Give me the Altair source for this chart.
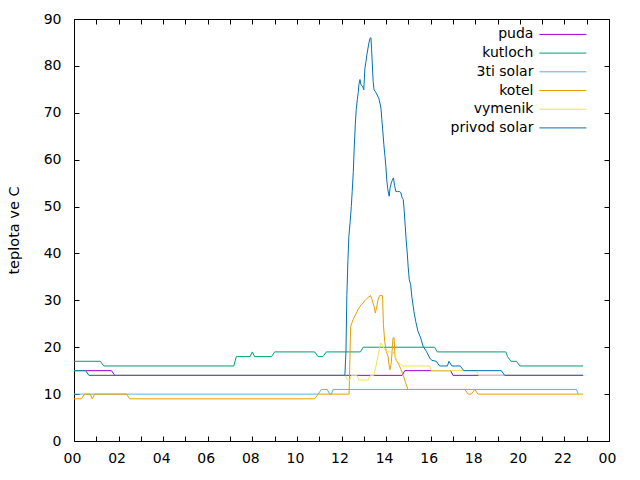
import altair as alt
import pandas as pd

series_names = ["puda", "kutloch", "3ti solar", "kotel", "vymenik", "privod solar"]
series_colors = ["#9400d3", "#009e73", "#56b4e9", "#e69f00", "#f0e442", "#0072b2"]

puda_hours = [0, 1.68, 1.83, 14.72, 14.84, 16.9, 17.0, 22.84]
puda_temp = [15, 15, 14, 14, 15, 15, 14, 14]

kutloch_hours = [0, 1.18, 1.33, 7.17, 7.28, 7.9, 8.0, 8.1, 8.86, 9.0, 10.8, 10.95,
                 11.17, 11.32, 12.85, 12.97, 16.18, 16.3, 19.37, 19.45, 19.6, 19.85, 20.0, 22.84]
kutloch_temp = [17, 17, 16, 16, 18, 18, 19, 18, 18, 19, 19, 18,
                18, 19, 19, 20, 20, 19, 19, 18, 17, 17, 16, 16]

solar3_hours = [0, 10.95, 11.1, 11.36, 11.47, 11.55, 11.62, 22.54, 22.62]
solar3_temp = [10, 10, 11, 11, 10, 10, 11, 11, 10]

kotel_hours = [0, 0.33, 0.48, 0.73, 0.82, 0.93, 2.35, 2.5, 10.8, 10.95,
               12.34, 12.37, 12.41, 12.52, 12.59, 12.67, 12.74, 12.82, 12.89, 12.97,
               13.04, 13.12, 13.19, 13.31, 13.37, 13.46, 13.52, 13.58, 13.64, 13.71,
               13.84, 13.88, 13.94, 14.01, 14.09, 14.13, 14.18, 14.24, 14.31, 14.36,
               14.4, 14.45, 14.55, 14.65, 14.77, 14.87, 14.98, 17.53, 17.68, 17.83,
               17.98, 18.12, 22.84]
kotel_temp = [9, 9, 10, 10, 9, 10, 10, 9, 9, 10,
              10, 16, 24.4, 25.9, 26.6, 27.3, 28, 28.6, 29.1, 29.4,
              29.9, 30.3, 30.6, 31, 30.1, 28.7, 27.3, 28.7, 30.1, 31,
              31, 24.8, 21.2, 19.1, 18, 16.3, 15.2, 17, 22, 22,
              18, 17.3, 16.5, 15.5, 14, 12.5, 11, 11, 10, 10,
              11, 10, 10]

vymenik_hours = [0, 0.52, 0.67, 12.15, 12.22, 12.3, 12.37, 12.45, 12.69, 12.78,
                 13.19, 13.3, 13.45, 13.55, 13.65, 13.76, 13.82, 13.9, 14.0, 14.1,
                 14.2, 14.3, 14.4, 14.5, 14.65, 14.75, 15.96, 16.03, 18.05, 18.15, 22.84]
vymenik_temp = [15, 15, 14, 14, 13.5, 13, 13, 14, 14, 13,
                13, 14, 14, 16, 18.5, 20.9, 20.5, 19.8, 19.2, 19,
                19, 19.2, 18, 17, 16.3, 16, 16, 15, 15, 14, 14]

privod_hours = [0, 0.52, 0.67, 12.15, 12.2, 12.24, 12.29, 12.33, 12.39, 12.44,
                12.48, 12.53, 12.57, 12.62, 12.66, 12.71, 12.75, 12.78, 12.83, 12.87,
                12.92, 12.96, 13.0, 13.05, 13.1, 13.14, 13.19, 13.23, 13.28, 13.32,
                13.35, 13.38, 13.42, 13.46, 13.52, 13.6, 13.68, 13.77, 13.81, 13.86,
                13.9, 13.95, 13.99, 14.03, 14.08, 14.14, 14.18, 14.23, 14.27, 14.33,
                14.38, 14.44, 14.51, 14.59, 14.66, 14.71, 14.77, 14.81, 14.86, 14.9,
                14.95, 14.99, 15.04, 15.1, 15.16, 15.25, 15.33, 15.43, 15.55, 15.66,
                15.81, 15.96, 16.05, 16.25, 16.4, 16.75, 16.82, 16.95, 17.33, 17.48,
                19.17, 19.32, 22.84]
privod_temp = [15, 15, 14, 14, 19, 31, 38.7, 43.6, 46.8, 50,
               53.2, 57.5, 62.5, 67.5, 70.7, 72.8, 74.3, 76, 77.1, 76,
               75.8, 75.5, 74.9, 79.5, 81, 82.4, 83.8, 84.9, 85.9, 86,
               83.5, 80.6, 76.7, 74.9, 74.5, 73.8, 73, 71, 68.5, 65.7,
               63.2, 60.7, 58.6, 55.7, 53.6, 52.2, 54, 55, 55.5, 56.1,
               54.5, 53.2, 53.2, 53.2, 53, 52, 51.5, 49.3, 45.8, 42.9,
               40.1, 37.2, 34.4, 33.4, 30.6, 27.6, 25.5, 23.4, 22, 20.2,
               19.1, 17.7, 17.2, 17, 16, 16, 17, 16, 16, 15,
               15, 14, 14]

x_label_values = [0, 2, 4, 6, 8, 10, 12, 14, 16, 18, 20, 22, 24]
x_labels = ["00", "02", "04", "06", "08", "10", "12", "14", "16", "18", "20", "22", "00"]
x_minor_ticks = list(range(0, 25))
y_tick_values = [0, 10, 20, 30, 40, 50, 60, 70, 80, 90]
y_title = "teplota ve C"

all_series = [
    (puda_hours, puda_temp),
    (kutloch_hours, kutloch_temp),
    (solar3_hours, solar3_temp),
    (kotel_hours, kotel_temp),
    (vymenik_hours, vymenik_temp),
    (privod_hours, privod_temp),
]
rows = []
for name, (hs, ts) in zip(series_names, all_series):
    for h, t in zip(hs, ts):
        rows.append({"series": name, "hour": h, "temp": t})
df = pd.DataFrame(rows)

W, H = 535, 422
FONT = "DejaVu Sans"
FS = 14
FS_TITLE = 14.5

xscale = alt.Scale(domain=[0, 24], nice=False, zero=False)
yscale = alt.Scale(domain=[0, 90], nice=False, zero=False)

label_expr = "[" + ",".join("'%s'" % l for l in x_labels) + "][round(datum.value / 2)]"

x_main = alt.Axis(values=x_label_values, labelExpr=label_expr, ticks=False, tickSize=0,
                  domain=False, grid=False, title=None, labelFont=FONT, labelFontSize=FS,
                  labelColor="black", labelPadding=10, labelFlush=False, labelOffset=-2)
y_main = alt.Axis(values=y_tick_values, ticks=False, tickSize=0, domain=False, grid=False,
                  title=y_title, titleFont=FONT, titleFontSize=FS_TITLE, titleFontWeight="normal",
                  titleColor="black", titleX=-56, titleY=H / 2, titleAngle=270,
                  titleBaseline="alphabetic", titleAlign="center",
                  labelFont=FONT, labelFontSize=FS, labelColor="black", labelPadding=13)

def tick_axis(orient, offset, values):
    return alt.Axis(orient=orient, offset=offset, values=values, labels=False, domain=False,
                    grid=False, ticks=True, tickSize=5, tickColor="black", tickWidth=1,
                    title=None)

x_in_bottom = tick_axis("top", -H, x_minor_ticks)
x_in_top = tick_axis("bottom", -H, x_minor_ticks)
y_in_left = tick_axis("right", -W, y_tick_values)
y_in_right = tick_axis("left", -W, y_tick_values)

color = alt.Color(
    "series:N",
    scale=alt.Scale(domain=series_names, range=series_colors),
    legend=alt.Legend(
        title=None, orient="none", legendX=445.4, legendY=8.4, padding=0,
        symbolType="M13,0H60", symbolSize=4, symbolStrokeWidth=1,
        labelAlign="right", labelOffset=0, labelFont=FONT, labelFontSize=FS,
        labelColor="black", rowPadding=4.7, labelLimit=300,
    ),
)

axes = [
    (x_main, y_main),
    (x_in_bottom, y_in_left),
    (x_in_top, y_in_right),
    (None, None),
    (None, None),
    (None, None),
]

layers = []
for name, (xa, ya) in zip(series_names, axes):
    layers.append(
        alt.Chart(df)
        .transform_filter(alt.datum.series == name)
        .mark_line(strokeWidth=1)
        .encode(
            x=alt.X("hour:Q", scale=xscale, axis=xa),
            y=alt.Y("temp:Q", scale=yscale, axis=ya),
            color=color,
        )
    )

chart = (
    alt.layer(*layers)
    .properties(
        width=W, height=H,
        padding={"left": 74, "top": 19, "right": 31, "bottom": 39},
        autosize=alt.AutoSizeParams(type="none"),
        background="white",
    )
    .configure_view(stroke="black", strokeWidth=1)
)

chart.save("out.html", embed_options={"renderer": "svg", "actions": False})
